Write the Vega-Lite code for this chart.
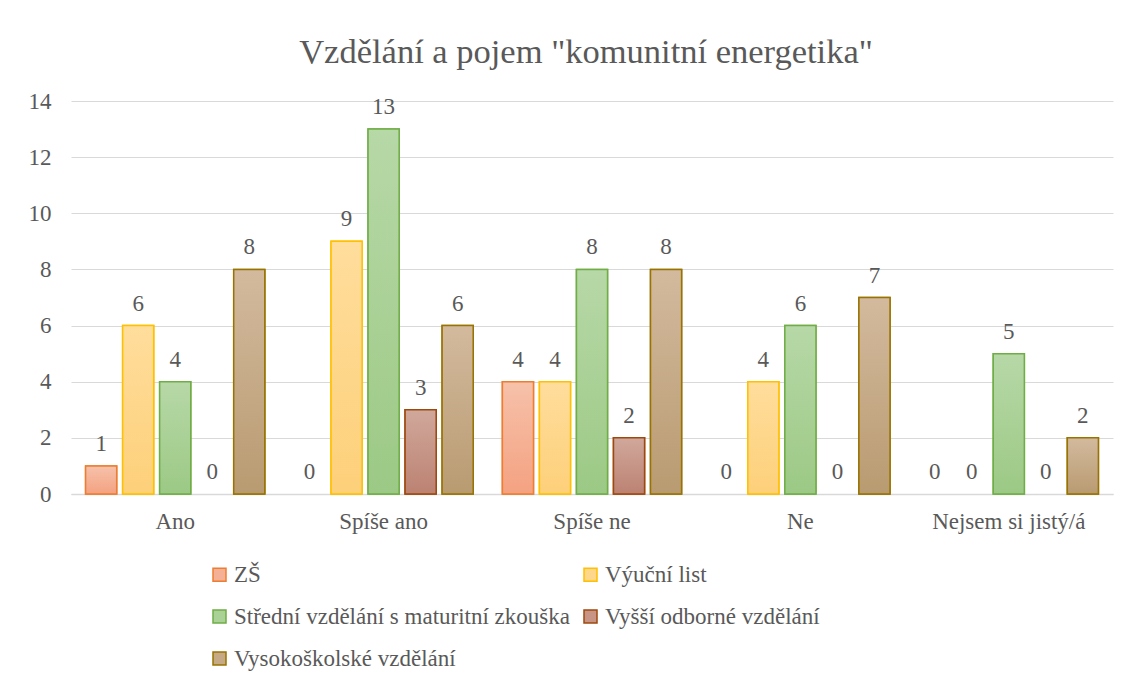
{
  "$schema": "https://vega.github.io/schema/vega-lite/v6.json",
  "autosize": {"type": "none"},
  "width": 1042,
  "height": 393,
  "padding": {"left": 71, "top": 101, "right": 19, "bottom": 190},
  "background": "white",
  "config": {
    "view": {"stroke": null},
    "font": "Liberation Serif, serif"
  },
  "title": {
    "text": "Vzdělání a pojem \"komunitní energetika\"",
    "font": "Liberation Serif, serif",
    "fontSize": 34.5,
    "fontWeight": "normal",
    "color": "#595959",
    "anchor": "middle",
    "dx": -6,
    "offset": 20
  },
  "data": {
    "values": [
      {"cat": "Ano", "series": "ZŠ", "value": 1},
      {"cat": "Ano", "series": "Výuční list", "value": 6},
      {"cat": "Ano", "series": "Střední vzdělání s maturitní zkouška", "value": 4},
      {"cat": "Ano", "series": "Vyšší odborné vzdělání", "value": 0},
      {"cat": "Ano", "series": "Vysokoškolské vzdělání", "value": 8},
      {"cat": "Spíše ano", "series": "ZŠ", "value": 0},
      {"cat": "Spíše ano", "series": "Výuční list", "value": 9},
      {"cat": "Spíše ano", "series": "Střední vzdělání s maturitní zkouška", "value": 13},
      {"cat": "Spíše ano", "series": "Vyšší odborné vzdělání", "value": 3},
      {"cat": "Spíše ano", "series": "Vysokoškolské vzdělání", "value": 6},
      {"cat": "Spíše ne", "series": "ZŠ", "value": 4},
      {"cat": "Spíše ne", "series": "Výuční list", "value": 4},
      {"cat": "Spíše ne", "series": "Střední vzdělání s maturitní zkouška", "value": 8},
      {"cat": "Spíše ne", "series": "Vyšší odborné vzdělání", "value": 2},
      {"cat": "Spíše ne", "series": "Vysokoškolské vzdělání", "value": 8},
      {"cat": "Ne", "series": "ZŠ", "value": 0},
      {"cat": "Ne", "series": "Výuční list", "value": 4},
      {"cat": "Ne", "series": "Střední vzdělání s maturitní zkouška", "value": 6},
      {"cat": "Ne", "series": "Vyšší odborné vzdělání", "value": 0},
      {"cat": "Ne", "series": "Vysokoškolské vzdělání", "value": 7},
      {"cat": "Nejsem si jistý/á", "series": "ZŠ", "value": 0},
      {"cat": "Nejsem si jistý/á", "series": "Výuční list", "value": 0},
      {"cat": "Nejsem si jistý/á", "series": "Střední vzdělání s maturitní zkouška", "value": 5},
      {"cat": "Nejsem si jistý/á", "series": "Vyšší odborné vzdělání", "value": 0},
      {"cat": "Nejsem si jistý/á", "series": "Vysokoškolské vzdělání", "value": 2}
    ]
  },
  "encoding": {
    "x": {
      "field": "cat",
      "type": "nominal",
      "sort": ["Ano", "Spíše ano", "Spíše ne", "Ne", "Nejsem si jistý/á"],
      "scale": {"paddingInner": 0.14, "paddingOuter": 0.07},
      "axis": {
        "title": null,
        "labelAngle": 0,
        "labelFont": "Liberation Serif, serif",
        "labelFontSize": 23,
        "labelColor": "#595959",
        "labelPadding": 16,
        "ticks": false,
        "domainColor": "#d9d9d9",
        "domainWidth": 1.5,
        "grid": false
      }
    },
    "xOffset": {
      "field": "series",
      "type": "nominal",
      "scale": {
        "domain": ["ZŠ", "Výuční list", "Střední vzdělání s maturitní zkouška", "Vyšší odborné vzdělání", "Vysokoškolské vzdělání"],
        "paddingInner": 0.16,
        "paddingOuter": 0
      }
    },
    "y": {
      "field": "value",
      "type": "quantitative",
      "scale": {"domain": [0, 14], "nice": false},
      "axis": {
        "title": null,
        "values": [0, 2, 4, 6, 8, 10, 12, 14],
        "labelFont": "Liberation Serif, serif",
        "labelFontSize": 23,
        "labelColor": "#595959",
        "labelPadding": 20,
        "ticks": false,
        "domain": false,
        "gridColor": "#d9d9d9",
        "gridWidth": 1.2
      }
    }
  },
  "layer": [
    {
      "transform": [{"filter": "datum.value > 0"}],
      "mark": {"type": "bar", "strokeWidth": 1.5},
      "encoding": {
        "fill": {
          "field": "series",
          "type": "nominal",
          "scale": {
            "domain": ["ZŠ", "Výuční list", "Střední vzdělání s maturitní zkouška", "Vyšší odborné vzdělání", "Vysokoškolské vzdělání"],
            "range": ["#f5b196", "#ffd78a", "#aad196", "#c79486", "#c6aa86"]
          },
          "legend": {
            "orient": "none",
            "direction": "horizontal",
            "legendX": 137,
            "legendY": 462,
            "columns": 2,
            "gridAlign": "all",
            "title": null,
            "symbolType": "square",
            "symbolSize": 169,
            "symbolStrokeWidth": 1.5,
            "labelFont": "Liberation Serif, serif",
            "labelFontSize": 23,
            "labelColor": "#595959",
            "labelOffset": 3,
            "labelLimit": 0,
            "rowPadding": 18,
            "columnPadding": 9,
            "padding": 0
          }
        },
        "stroke": {
          "field": "series",
          "type": "nominal",
          "scale": {
            "domain": ["ZŠ", "Výuční list", "Střední vzdělání s maturitní zkouška", "Vyšší odborné vzdělání", "Vysokoškolské vzdělání"],
            "range": ["#ed7d31", "#ffc000", "#70ad47", "#9e480e", "#997300"]
          },
          "legend": {
            "orient": "none",
            "direction": "horizontal",
            "legendX": 137,
            "legendY": 462,
            "columns": 2,
            "gridAlign": "all",
            "title": null,
            "symbolType": "square",
            "symbolSize": 169,
            "symbolStrokeWidth": 1.5,
            "labelFont": "Liberation Serif, serif",
            "labelFontSize": 23,
            "labelColor": "#595959",
            "labelOffset": 3,
            "labelLimit": 0,
            "rowPadding": 18,
            "columnPadding": 9,
            "padding": 0
          }
        }
      }
    },
    {
      "transform": [{"filter": "datum.value > 0 && datum.series == 'ZŠ'"}],
      "mark": {
        "type": "bar",
        "strokeWidth": 1.5,
        "stroke": "#ed7d31",
        "color": {"gradient": "linear", "x1": 0, "y1": 0, "x2": 0, "y2": 1,
          "stops": [{"offset": 0, "color": "#f6c1aa"}, {"offset": 1, "color": "#f4a281"}]}
      }
    },
    {
      "transform": [{"filter": "datum.value > 0 && datum.series == 'Výuční list'"}],
      "mark": {
        "type": "bar",
        "strokeWidth": 1.5,
        "stroke": "#ffc000",
        "color": {"gradient": "linear", "x1": 0, "y1": 0, "x2": 0, "y2": 1,
          "stops": [{"offset": 0, "color": "#ffdd9c"}, {"offset": 1, "color": "#fdd07a"}]}
      }
    },
    {
      "transform": [{"filter": "datum.value > 0 && datum.series == 'Střední vzdělání s maturitní zkouška'"}],
      "mark": {
        "type": "bar",
        "strokeWidth": 1.5,
        "stroke": "#70ad47",
        "color": {"gradient": "linear", "x1": 0, "y1": 0, "x2": 0, "y2": 1,
          "stops": [{"offset": 0, "color": "#b7d8a7"}, {"offset": 1, "color": "#9cc985"}]}
      }
    },
    {
      "transform": [{"filter": "datum.value > 0 && datum.series == 'Vyšší odborné vzdělání'"}],
      "mark": {
        "type": "bar",
        "strokeWidth": 1.5,
        "stroke": "#9e480e",
        "color": {"gradient": "linear", "x1": 0, "y1": 0, "x2": 0, "y2": 1,
          "stops": [{"offset": 0, "color": "#d0a89c"}, {"offset": 1, "color": "#bc8272"}]}
      }
    },
    {
      "transform": [{"filter": "datum.value > 0 && datum.series == 'Vysokoškolské vzdělání'"}],
      "mark": {
        "type": "bar",
        "strokeWidth": 1.5,
        "stroke": "#997300",
        "color": {"gradient": "linear", "x1": 0, "y1": 0, "x2": 0, "y2": 1,
          "stops": [{"offset": 0, "color": "#d3ba9e"}, {"offset": 1, "color": "#b99b71"}]}
      }
    },
    {
      "mark": {
        "type": "text",
        "baseline": "alphabetic",
        "dy": -15,
        "font": "Liberation Serif, serif",
        "fontSize": 23,
        "fill": "#595959"
      },
      "encoding": {
        "text": {"field": "value", "type": "quantitative"}
      }
    }
  ]
}
